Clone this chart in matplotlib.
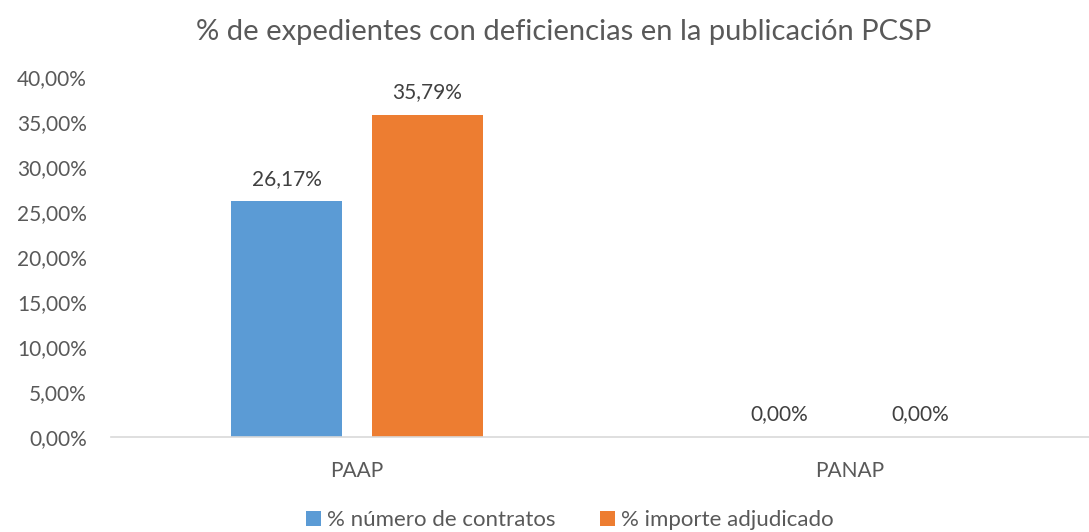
import matplotlib
matplotlib.use("Agg")
import matplotlib.pyplot as plt
import numpy as np

plt.rcParams["font.family"] = ["Lato", "DejaVu Sans"]

categories = ["PAAP", "PANAP"]
num_contratos = [26.17, 0.00]
importe_adjudicado = [35.79, 0.00]
series_names = ["% número de contratos", "% importe adjudicado"]
yticks = [0, 5, 10, 15, 20, 25, 30, 35, 40]

text_color = "#595959"
blue = "#5B9BD5"
orange = "#ED7D31"

fig = plt.figure(figsize=(10.89, 5.32), dpi=100)
ax = fig.add_axes([0.1015, 0.1786, 0.9054, 0.6767])

x = np.arange(len(categories))
w = 0.227
off = 0.143
b1 = ax.bar(x - off, num_contratos, w, color=blue, label=series_names[0])
b2 = ax.bar(x + off, importe_adjudicado, w, color=orange, label=series_names[1])

def fmt(v):
    return f"{v:.2f}".replace(".", ",") + "%"

for bars, vals in ((b1, num_contratos), (b2, importe_adjudicado)):
    for r, v in zip(bars, vals):
        ax.annotate(fmt(v), (r.get_x() + r.get_width() / 2, v),
                    xytext=(0, 9), textcoords="offset points",
                    ha="center", va="bottom", fontsize=15, color="#404040")

ax.set_xlim(-0.5, 1.5)
ax.set_ylim(0, 40)
ax.set_yticks(yticks)
ax.set_yticklabels([fmt(t) for t in yticks])
ax.set_xticks(x)
ax.set_xticklabels(categories)
ax.tick_params(axis="both", length=0, labelsize=15, colors=text_color)
ax.tick_params(axis="x", pad=17)
ax.tick_params(axis="y", pad=17)

for s in ["top", "right", "left"]:
    ax.spines[s].set_visible(False)
ax.spines["bottom"].set_color("#D9D9D9")
ax.spines["bottom"].set_linewidth(1.2)

fig.text(0.518, 0.94, "% de expedientes con deficiencias en la publicación PCSP",
         ha="center", va="center", fontsize=21, color=text_color)

fig.legend(loc="center", bbox_to_anchor=(0.523, 0.022), ncol=2, frameon=False,
           fontsize=16, labelcolor=text_color, handlelength=0.7, handleheight=0.7,
           handletextpad=0.25, columnspacing=2.0)

fig.savefig("out.png", dpi=100)
